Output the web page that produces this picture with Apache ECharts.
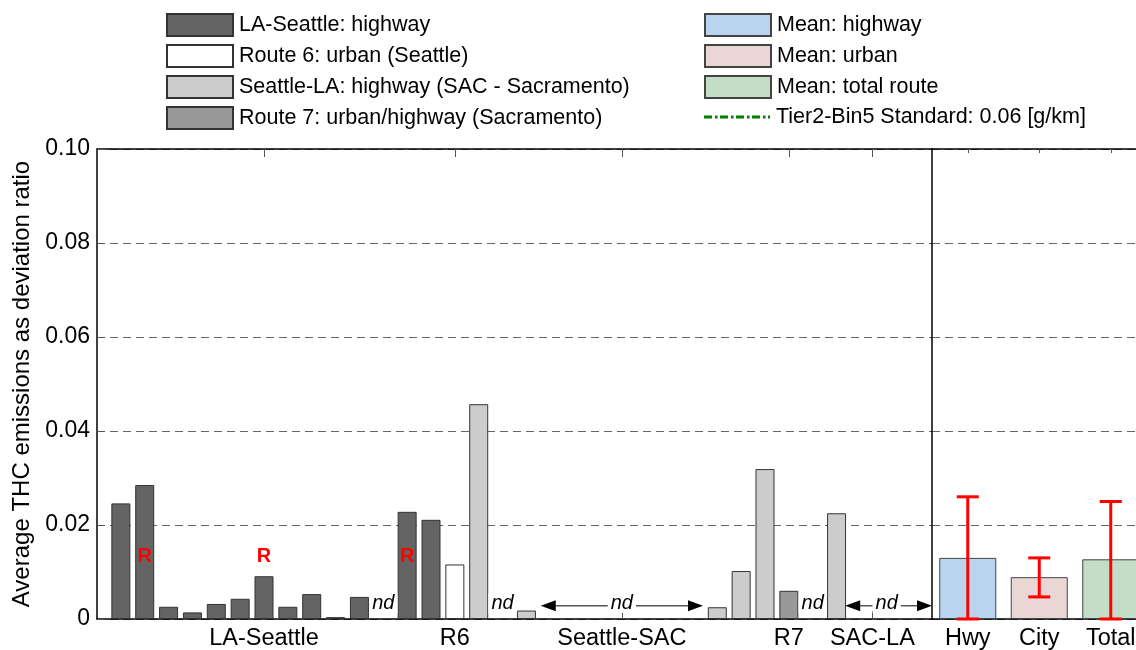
<!DOCTYPE html>
<html>
<head>
<meta charset="utf-8">
<script src="https://cdn.jsdelivr.net/npm/echarts@6/dist/echarts.min.js"></script>
<style>
html,body{margin:0;padding:0;background:#fff;}
#chart{width:1136px;height:650px;}
</style>
</head>
<body>
<div id="chart"></div>
<script>
// ---- data ----
const laSeattleX = [1, 2, 3, 4, 5, 6, 7, 8, 9, 10, 11, 13, 14];
const laSeattleY = [0.0246, 0.0285, 0.0026, 0.0014, 0.0032, 0.0043, 0.0091, 0.0026, 0.0053, 0.0004, 0.0047, 0.0228, 0.0211];
const route6X = [15];
const route6Y = [0.0116];
const seattleLAX = [16, 18, 26, 27, 28, 31];
const seattleLAY = [0.0457, 0.0018, 0.0025, 0.0102, 0.0319, 0.0225];
const route7X = [29];
const route7Y = [0.0060];

const groupLabels = ['LA-Seattle', 'R6', 'Seattle-SAC', 'R7', 'SAC-LA'];
const groupPos = [7, 15, 22, 29, 32.5];

const meanCats = ['Hwy', 'City', 'Total'];
const meanHwy = [0.0130, null, null];
const meanUrban = [null, 0.0089, null];
const meanTotal = [null, null, 0.0127];
const errLow = [0, 0.0047, 0];
const errHigh = [0.026, 0.013, 0.025];

// annotations
const ndX = [12, 17, 22, 30, 33.1];
const ndLevel = 0.0034;
const arrowFrom = [18.6, 31.36];
const arrowTo = [25.4, 35];
const arrowLevel = 0.0028;
const rX = [2, 7, 13];
const rLevel = 0.0133;

// ---- helpers ----
const FONT = '"Liberation Sans", Arial, Helvetica, sans-serif';
const pairs = (xs, ys) => xs.map((x, i) => [x, ys[i]]);

const grayBar = (name, xs, ys, color) => ({
  name, type: 'bar', xAxisIndex: 0, yAxisIndex: 0,
  data: pairs(xs, ys), barWidth: 19, barGap: '-100%',
  itemStyle: { color, borderColor: '#333', borderWidth: 1 },
  emphasis: { disabled: true }, z: 3
});
const meanBar = (name, vals, color) => ({
  name, type: 'bar', xAxisIndex: 2, yAxisIndex: 1,
  data: vals, barWidth: 57, barGap: '-100%',
  itemStyle: { color, borderColor: '#444', borderWidth: 1 },
  emphasis: { disabled: true }, z: 3
});

// dash-dot legend glyph (66 x 3)
const dashDotIcon = 'path://M0,0h8v3h-8z M11,0h2.5v3h-2.5z M16,0h8v3h-8z M27,0h2.5v3h-2.5z M32,0h8v3h-8z M43,0h2.5v3h-2.5z M48,0h8v3h-8z M59,0h2.5v3h-2.5z M64,0h2v3h-2z';

const legendText = { fontSize: 21.5, color: '#000', fontFamily: FONT, padding: [0, 0, 0, 1] };

const chart = echarts.init(document.getElementById('chart'), null, { renderer: 'canvas' });

const option = {
  animation: false,
  backgroundColor: '#fff',
  textStyle: { fontFamily: FONT },
  grid: [
    { left: 97, top: 149, width: 835, height: 470, containLabel: false, outerBoundsMode: 'none' },
    { left: 932, top: 149, width: 214.5, height: 470, containLabel: false, outerBoundsMode: 'none' }
  ],
  legend: [
    {
      data: ['LA-Seattle: highway', 'Route 6: urban (Seattle)', 'Seattle-LA: highway (SAC - Sacramento)', 'Route 7: urban/highway (Sacramento)'],
      icon: 'rect',
      orient: 'vertical', left: 166, top: 13, padding: 0,
      itemWidth: 66, itemHeight: 22, itemGap: 7, selectedMode: false,
      textStyle: legendText
    },
    {
      data: ['Mean: highway', 'Mean: urban', 'Mean: total route'],
      icon: 'rect',
      orient: 'vertical', left: 704, top: 13, padding: 0,
      itemWidth: 66, itemHeight: 22, itemGap: 7, selectedMode: false,
      textStyle: legendText
    },
    {
      data: [{ name: 'Tier2-Bin5 Standard: 0.06 [g/km]', icon: dashDotIcon, itemStyle: { color: '#007f00', borderWidth: 0 } }],
      orient: 'vertical', left: 704, top: 106, padding: 0,
      itemWidth: 66, itemHeight: 3, itemGap: 7, selectedMode: false,
      textStyle: legendText
    }
  ],
  xAxis: [
    {
      type: 'value', gridIndex: 0, min: 0, max: 35, position: 'bottom',
      axisLine: { show: true, onZero: false, lineStyle: { color: '#000', width: 1.5 } },
      axisTick: { show: true, inside: true, length: 8, customValues: groupPos, lineStyle: { color: '#555' } },
      axisLabel: {
        show: true, customValues: groupPos, margin: 8,
        formatter: v => groupLabels[groupPos.indexOf(v)] || '',
        fontSize: 23.5, color: '#000', fontFamily: FONT
      },
      splitLine: { show: false }
    },
    {
      type: 'value', gridIndex: 0, min: 0, max: 35, position: 'top',
      axisLine: { show: true, onZero: false, lineStyle: { color: '#000', width: 1.5 } },
      axisTick: { show: true, inside: true, length: 8, customValues: groupPos, lineStyle: { color: '#555' } },
      axisLabel: { show: false },
      splitLine: { show: false }
    },
    {
      type: 'category', gridIndex: 1, data: meanCats, position: 'bottom',
      axisLine: { show: true, onZero: false, lineStyle: { color: '#000', width: 1.5 } },
      axisTick: { show: false },
      axisLabel: { show: true, margin: 8, fontSize: 23.5, color: '#000', fontFamily: FONT, interval: 0 },
      splitLine: { show: false }
    },
    {
      type: 'category', gridIndex: 1, data: meanCats, position: 'top',
      axisLine: { show: true, onZero: false, lineStyle: { color: '#000', width: 1.5 } },
      axisTick: { show: true, inside: true, length: 4, alignWithLabel: true, lineStyle: { color: '#555' } },
      axisLabel: { show: false },
      splitLine: { show: false }
    }
  ],
  yAxis: [
    {
      type: 'value', gridIndex: 0, min: 0, max: 0.1, interval: 0.02,
      name: 'Average THC emissions as deviation ratio',
      nameLocation: 'middle', nameGap: 63, nameRotate: 90,
      nameTextStyle: { fontSize: 24, color: '#000', fontFamily: FONT },
      axisLine: { show: true, lineStyle: { color: '#000', width: 1.5 } },
      axisTick: { show: true, inside: true, length: 8, lineStyle: { color: '#555' } },
      axisLabel: {
        fontSize: 23, color: '#000', margin: 7, fontFamily: FONT,
        formatter: v => (v === 0 ? '0' : v.toFixed(2))
      },
      splitLine: { show: true, lineStyle: { color: '#666', type: [8, 5], width: 1 } }
    },
    {
      type: 'value', gridIndex: 1, min: 0, max: 0.1, interval: 0.02,
      axisLine: { show: true, lineStyle: { color: '#000', width: 1.5 } },
      axisTick: { show: false },
      axisLabel: { show: false },
      splitLine: { show: true, lineStyle: { color: '#666', type: [8, 5], width: 1 } }
    }
  ],
  series: [
    grayBar('LA-Seattle: highway', laSeattleX, laSeattleY, '#646464'),
    grayBar('Route 6: urban (Seattle)', route6X, route6Y, '#ffffff'),
    grayBar('Seattle-LA: highway (SAC - Sacramento)', seattleLAX, seattleLAY, '#cccccc'),
    grayBar('Route 7: urban/highway (Sacramento)', route7X, route7Y, '#999999'),
    meanBar('Mean: highway', meanHwy, '#bad4f0'),
    meanBar('Mean: urban', meanUrban, '#ebd6d6'),
    meanBar('Mean: total route', meanTotal, '#c3ddc6'),
    {
      name: 'Tier2-Bin5 Standard: 0.06 [g/km]', type: 'line', xAxisIndex: 0, yAxisIndex: 0,
      data: [], symbol: 'none', showSymbol: false,
      itemStyle: { color: '#007f00' },
      lineStyle: { color: '#007f00', width: 2.5, type: [7, 3, 2, 3] }
    },
    {
      name: 'errorbars', type: 'custom', xAxisIndex: 2, yAxisIndex: 1, z: 10,
      data: meanCats.map((c, i) => [i, errLow[i], errHigh[i]]),
      renderItem: (params, api) => {
        const i = api.value(0);
        const lo = api.coord([i, api.value(1)]);
        const hi = api.coord([i, api.value(2)]);
        const h = 11;
        const st = { stroke: '#ff0000', lineWidth: 3 };
        return {
          type: 'group', children: [
            { type: 'line', shape: { x1: lo[0], y1: lo[1], x2: hi[0], y2: hi[1] }, style: st },
            { type: 'line', shape: { x1: lo[0] - h, y1: lo[1], x2: lo[0] + h, y2: lo[1] }, style: st },
            { type: 'line', shape: { x1: hi[0] - h, y1: hi[1], x2: hi[0] + h, y2: hi[1] }, style: st }
          ]
        };
      }
    },
    {
      name: 'arrows', type: 'custom', xAxisIndex: 0, yAxisIndex: 0, z: 8,
      data: arrowFrom.map((a, i) => [a, arrowTo[i], arrowLevel]),
      renderItem: (params, api) => {
        const p1 = api.coord([api.value(0), api.value(2)]);
        const p2 = api.coord([api.value(1), api.value(2)]);
        const L = 15, H = 5.5;
        return {
          type: 'group', children: [
            { type: 'line', shape: { x1: p1[0] + L, y1: p1[1], x2: p2[0] - L, y2: p2[1] }, style: { stroke: '#000', lineWidth: 1 } },
            { type: 'polygon', shape: { points: [[p1[0], p1[1]], [p1[0] + L, p1[1] - H], [p1[0] + L, p1[1] + H]] }, style: { fill: '#000' } },
            { type: 'polygon', shape: { points: [[p2[0], p2[1]], [p2[0] - L, p2[1] - H], [p2[0] - L, p2[1] + H]] }, style: { fill: '#000' } }
          ]
        };
      }
    },
    {
      name: 'nd', type: 'custom', xAxisIndex: 0, yAxisIndex: 0, z: 9,
      data: ndX.map(x => [x, ndLevel]),
      renderItem: (params, api) => {
        const p = api.coord([api.value(0), api.value(1)]);
        return {
          type: 'text', x: p[0], y: p[1],
          style: {
            text: 'nd', font: 'italic 20px ' + FONT, fill: '#000',
            align: 'center', verticalAlign: 'middle',
            backgroundColor: '#fff', padding: [0, 3]
          }
        };
      }
    },
    {
      name: 'R', type: 'custom', xAxisIndex: 0, yAxisIndex: 0, z: 9,
      data: rX.map(x => [x, rLevel]),
      renderItem: (params, api) => {
        const p = api.coord([api.value(0), api.value(1)]);
        return {
          type: 'text', x: p[0], y: p[1],
          style: {
            text: 'R', font: 'bold 20px ' + FONT, fill: '#ff0000',
            align: 'center', verticalAlign: 'middle'
          }
        };
      }
    }
  ]
};
chart.setOption(option);
</script>
</body>
</html>
